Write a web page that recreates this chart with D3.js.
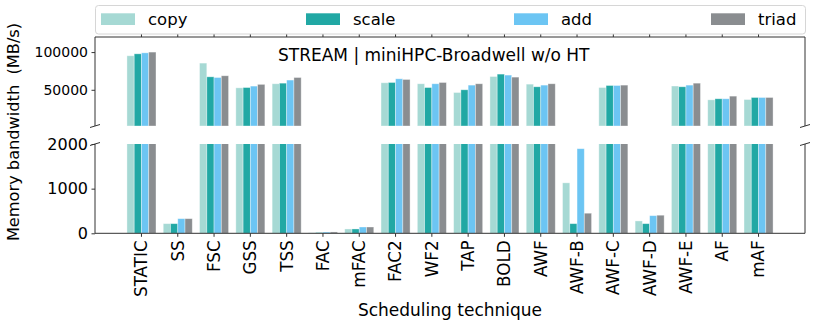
<!DOCTYPE html>
<html><head><meta charset="utf-8">
<script src="https://cdn.jsdelivr.net/npm/d3@7"></script>
<style>body{margin:0;background:#fff;} text{font-family:"DejaVu Sans",sans-serif;}</style>
</head><body><svg id="c" width="814" height="323"></svg>
<script>
const categories = ["STATIC","SS","FSC","GSS","TSS","FAC","mFAC","FAC2","WF2","TAP","BOLD","AWF","AWF-B","AWF-C","AWF-D","AWF-E","AF","mAF"];
const copy  = [95100, 216, 85400, 52600, 58000, 12, 97, 59300, 58000, 46400, 67600, 57500, 1130, 53000, 277, 55000, 36700, 37100];
const scale = [97700, 216, 67200, 53000, 58800, 18, 97, 59700, 53000, 50000, 70800, 54000, 216, 55700, 216, 54000, 38100, 39800];
const add   = [99000, 328, 66300, 54900, 62900, 28, 141, 64600, 58000, 56200, 69500, 56200, 1895, 55700, 395, 56200, 38100, 39800];
const triad = [100000, 328, 68600, 57200, 66300, 30, 141, 63700, 59700, 58000, 66800, 58000, 450, 56200, 405, 58800, 41600, 39800];
const seriesNames = ["copy","scale","add","triad"];
const seriesColors = ["#a6d9d4","#21a8a4","#6cc5f3","#8a8d90"];
const topTicks = [50000, 100000];
const bottomTicks = [0, 1000, 2000];
const titleText = "STREAM | miniHPC-Broadwell w/o HT";
const yLabel = "Memory bandwidth  (MB/s)";
const xLabel = "Scheduling technique";

const series = [copy, scale, add, triad];
const svg = d3.select("#c");
const L = 95, R = 805;
const topY0 = 37, topY1 = 126, botY0 = 144, botY1 = 233.3;
const axisColor = "#333";

const x = d3.scaleBand().domain(categories).range([L, R]).paddingInner(0).paddingOuter(0.78);
const step = x.step();
const bw = step * 0.2;
const yTop = d3.scaleLinear().domain([2000, 120000]).range([topY1, topY0]);
const yBot = d3.scaleLinear().domain([0, 2000]).range([botY1, botY0]);

const defs = svg.append("defs");
defs.append("clipPath").attr("id","clipTop").append("rect").attr("x",L).attr("y",topY0).attr("width",R-L).attr("height",topY1-topY0);
defs.append("clipPath").attr("id","clipBot").append("rect").attr("x",L).attr("y",botY0).attr("width",R-L).attr("height",botY1-botY0);

const rows = [];
series.forEach((vals, si) => vals.forEach((v, ci) => rows.push({cat: categories[ci], s: si, v})));

function drawBars(g, y, clip) {
  const d0 = y.domain()[0];
  g.attr("clip-path", `url(#${clip})`).selectAll("rect").data(rows.filter(d => d.v > d0)).join("rect")
    .attr("x", d => x(d.cat) + step/2 + (d.s - 2) * bw)
    .attr("width", bw)
    .attr("y", d => y(d.v))
    .attr("height", d => y(d0) - y(d.v))
    .attr("fill", d => seriesColors[d.s])
    .attr("stroke", "rgba(255,255,255,0.45)")
    .attr("stroke-width", 0.8);
}
drawBars(svg.append("g"), yTop, "clipTop");
drawBars(svg.append("g"), yBot, "clipBot");

// spines
const sp = svg.append("g").attr("stroke", axisColor).attr("stroke-width", 1).attr("fill","none");
sp.append("line").attr("x1",L).attr("x2",L).attr("y1",topY0).attr("y2",topY1);
sp.append("line").attr("x1",R).attr("x2",R).attr("y1",topY0).attr("y2",topY1);
sp.append("line").attr("x1",L).attr("x2",R).attr("y1",topY0).attr("y2",topY0);
sp.append("line").attr("x1",L).attr("x2",L).attr("y1",botY0).attr("y2",botY1);
sp.append("line").attr("x1",R).attr("x2",R).attr("y1",botY0).attr("y2",botY1);
sp.append("line").attr("x1",L).attr("x2",R).attr("y1",botY1).attr("y2",botY1);
// break marks
[[L,topY1],[R,topY1],[L,botY0],[R,botY0]].forEach(([px,py]) => {
  sp.append("line").attr("x1",px-5).attr("y1",py+1.5).attr("x2",px+5).attr("y2",py-1.5);
});

function styleAxis(g, fs) {
  g.select(".domain").remove();
  g.selectAll(".tick line").attr("stroke", axisColor);
  g.selectAll(".tick text").attr("fill","#000").style("font-family","DejaVu Sans").style("font-size", fs + "px");
}
const fmt = d3.format("d");
const gyt = svg.append("g").attr("transform",`translate(${L},0)`)
  .call(d3.axisLeft(yTop).tickValues(topTicks).tickFormat(fmt).tickSize(3.5).tickPadding(3.5));
styleAxis(gyt, 14);
const gyb = svg.append("g").attr("transform",`translate(${L},0)`)
  .call(d3.axisLeft(yBot).tickValues(bottomTicks).tickFormat(fmt).tickSize(3.5).tickPadding(3.5));
styleAxis(gyb, 16);

const gxt = svg.append("g").attr("transform",`translate(0,${topY0})`)
  .call(d3.axisTop(x).tickFormat("").tickSize(3.5));
styleAxis(gxt, 16);

const gxb = svg.append("g").attr("transform",`translate(0,${botY1})`)
  .call(d3.axisBottom(x).tickSize(3.5).tickPadding(3.5));
styleAxis(gxb, 16.8);
gxb.selectAll(".tick text")
  .attr("transform","rotate(-90)")
  .attr("text-anchor","end")
  .attr("x", -7).attr("y", 0).attr("dy","0.35em");

// title
svg.append("text").attr("x", 278).attr("y", 61).style("font-size","17px").attr("fill","#000").text(titleText);

// axis labels
svg.append("text").attr("transform","translate(19,132) rotate(-90)").attr("text-anchor","middle")
  .style("font-size","16.2px").attr("fill","#000").style("white-space","pre").text(yLabel);
svg.append("text").attr("x", 450).attr("y", 316).attr("text-anchor","middle")
  .style("font-size","17px").attr("fill","#000").text(xLabel);

// legend
const lg = svg.append("g");
lg.append("rect").attr("x", 95.5).attr("y", 5.5).attr("width", 710).attr("height", 28.5).attr("rx", 3)
  .attr("fill","#fff").attr("stroke","#d6d6d6").attr("stroke-width",1);
const legendX = [101, 306, 514, 711];
seriesNames.forEach((n, i) => {
  lg.append("rect").attr("x", legendX[i]).attr("y", 13.3).attr("width", 34).attr("height", 11.7).attr("fill", seriesColors[i]);
  lg.append("text").attr("x", legendX[i] + 47).attr("y", 25).style("font-size","16.5px").attr("fill","#000").text(n);
});
</script></body></html>
